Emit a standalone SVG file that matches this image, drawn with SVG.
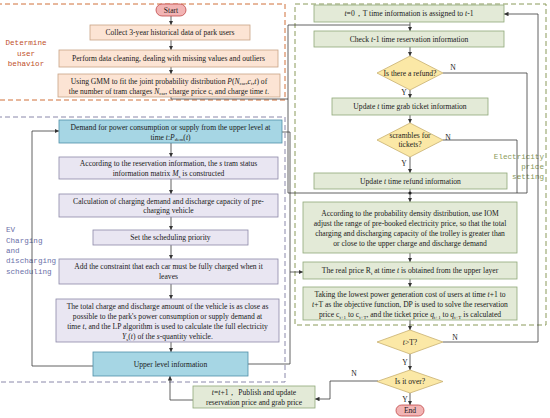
<svg xmlns="http://www.w3.org/2000/svg" width="550" height="418" viewBox="0 0 550 418">
<style>
text{font-family:"Liberation Serif","Times New Roman",serif;font-size:7.6px;fill:#1a1a1a;text-anchor:middle}
.lab{font-family:"Liberation Mono","DejaVu Sans Mono",monospace;font-size:7.6px}
.peach{fill:#fce4d4;stroke:#c9a386;stroke-width:0.8}
.blue{fill:#a6d6e4;stroke:#4f8fa8;stroke-width:0.8}
.lav{fill:#e9e6f2;stroke:#8c88a8;stroke-width:0.8}
.green{fill:#e3ead7;stroke:#8fa878;stroke-width:0.8}
.dia{fill:#fbe8a6;stroke:#c8b070;stroke-width:0.8}
.pill{fill:#f2b4b4;stroke:#c04848;stroke-width:0.8}
.c{fill:none;stroke:#3a3a3a;stroke-width:0.8}
.i{font-style:italic}
</style>
<defs>
<marker id="ah" viewBox="0 0 6 6" refX="6" refY="3" markerWidth="4.5" markerHeight="4.5" orient="auto" markerUnits="userSpaceOnUse"><path d="M0,0 L6,3 L0,6 z" fill="#333"/></marker>
</defs>

<g id="regions" fill="none" stroke-width="1" stroke-dasharray="5,3">
<rect x="-3" y="4" width="288" height="96" stroke="#d0703a"/>
<rect x="-3" y="117" width="288" height="265" stroke="#8a88aa"/>
<rect x="295" y="4" width="251" height="321" stroke="#8a9a5a"/>
</g>
<g id="region-labels">
<text class="lab" x="26" y="45" fill="#c0502a" style="fill:#c0502a">Determine</text>
<text class="lab" x="26" y="56" style="fill:#c0502a">user</text>
<text class="lab" x="26" y="66" style="fill:#c0502a">behavior</text>
<text class="lab" x="6" y="232" style="fill:#6a70a8;text-anchor:start">EV</text>
<text class="lab" x="6" y="243" style="fill:#6a70a8;text-anchor:start">Charging</text>
<text class="lab" x="6" y="253" style="fill:#6a70a8;text-anchor:start">and</text>
<text class="lab" x="6" y="263" style="fill:#6a70a8;text-anchor:start">discharging</text>
<text class="lab" x="6" y="274" style="fill:#6a70a8;text-anchor:start">scheduling</text>
<text class="lab" x="544" y="159" style="fill:#8a9a5a;text-anchor:end">Electricity</text>
<text class="lab" x="544" y="169" style="fill:#8a9a5a;text-anchor:end">price</text>
<text class="lab" x="544" y="179" style="fill:#8a9a5a;text-anchor:end">setting</text>
</g>

<g id="connectors">
<line class="c" x1="171" y1="16" x2="171" y2="25" marker-end="url(#ah)"/>
<line class="c" x1="171" y1="40" x2="171" y2="50" marker-end="url(#ah)"/>
<line class="c" x1="171" y1="67" x2="171" y2="74" marker-end="url(#ah)"/>
<polyline class="c" points="171,97 171,99 288,99"/>
<polyline class="c" points="288,193 288,25 410,25"/>
<line class="c" x1="410" y1="22" x2="410" y2="31" marker-end="url(#ah)"/>
<line class="c" x1="410" y1="47" x2="410" y2="56" marker-end="url(#ah)"/>
<polyline class="c" points="443,73 527,73 527,193"/>
<line class="c" x1="410" y1="90" x2="410" y2="98" marker-end="url(#ah)"/>
<line class="c" x1="410" y1="115" x2="410" y2="123" marker-end="url(#ah)"/>
<polyline class="c" points="443,140 517,140 517,193"/>
<line class="c" x1="410" y1="157" x2="410" y2="173" marker-end="url(#ah)"/>
<line class="c" x1="288" y1="193" x2="527" y2="193"/>
<line class="c" x1="410" y1="189" x2="410" y2="202" marker-end="url(#ah)"/>
<circle cx="410" cy="193" r="1.6" fill="#222"/>
<line class="c" x1="410" y1="253" x2="410" y2="262" marker-end="url(#ah)"/>
<line class="c" x1="410" y1="279" x2="410" y2="287" marker-end="url(#ah)"/>
<line class="c" x1="410" y1="320" x2="410" y2="330" marker-end="url(#ah)"/>
<polyline class="c" points="443,342 538,342 538,14 504,14" marker-end="url(#ah)"/>
<line class="c" x1="410" y1="354" x2="410" y2="370" marker-end="url(#ah)"/>
<polyline class="c" points="378,381 330,381 330,399 315,399" marker-end="url(#ah)"/>
<line class="c" x1="410" y1="393" x2="410" y2="405" marker-end="url(#ah)"/>
<polyline class="c" points="193,400 170,400 170,376" marker-end="url(#ah)"/>
<line class="c" x1="171" y1="143" x2="171" y2="157" marker-end="url(#ah)"/>
<line class="c" x1="171" y1="179" x2="171" y2="194" marker-end="url(#ah)"/>
<line class="c" x1="171" y1="217" x2="171" y2="230" marker-end="url(#ah)"/>
<line class="c" x1="171" y1="245" x2="171" y2="259" marker-end="url(#ah)"/>
<line class="c" x1="171" y1="284" x2="171" y2="299" marker-end="url(#ah)"/>
<line class="c" x1="171" y1="342" x2="171" y2="352" marker-end="url(#ah)"/>
<polyline class="c" points="93,366 32,366 32,131 59,131" marker-end="url(#ah)"/>
<polyline class="c" points="248,364 290,364 290,272 303,272" marker-end="url(#ah)"/>
<polyline class="c" points="282,132 290,132 290,272"/>
<text x="453" y="70">N</text>
<text x="404" y="95">Y</text>
<text x="448" y="140">N</text>
<text x="404" y="166">Y</text>
<text x="455" y="340">N</text>
<text x="405" y="365">Y</text>
<text x="354" y="376">N</text>
<text x="405" y="402">Y</text>
</g>

<g id="start"><rect class="pill" x="156" y="4" width="30" height="12" rx="6"/><text x="171" y="12.6">Start</text></g>
<g id="collect"><rect class="peach" x="90" y="25" width="160" height="15"/><text x="170" y="35">Collect 3-year historical data of park users</text></g>
<g id="clean"><rect class="peach" x="59" y="50" width="219" height="17"/><text x="168.5" y="61">Perform data cleaning, dealing with missing values and outliers</text></g>
<g id="gmm"><rect class="peach" x="58" y="74" width="222" height="23"/>
<text x="169" y="83.5">Using GMM to fit the joint probability distribution <tspan class="i">P</tspan>(<tspan class="i">N</tspan><tspan font-size="5" dy="1.5">car</tspan><tspan dy="-1.5">,</tspan><tspan class="i">c</tspan><tspan font-size="5" dy="1.5">t</tspan><tspan dy="-1.5">,</tspan><tspan class="i">t</tspan>) of</text>
<text x="169" y="93.5">the number of tram charges <tspan class="i">N</tspan><tspan font-size="5" dy="1.5">car</tspan><tspan dy="-1.5">, charge price c</tspan><tspan font-size="5" dy="1.5">t</tspan><tspan dy="-1.5"> and charge time </tspan><tspan class="i">t</tspan>.</text></g>

<g id="demand"><rect class="blue" x="59" y="120" width="223" height="23"/>
<text x="170.5" y="129.5">Demand for power consumption or supply from the upper level at</text>
<text x="170.5" y="139.5">time <tspan class="i">t</tspan>:<tspan class="i">P</tspan><tspan font-size="5" dy="1.5">dem</tspan><tspan dy="-1.5">(</tspan><tspan class="i">t</tspan>)</text></g>
<g id="matrix"><rect class="lav" x="59" y="157" width="219" height="22"/>
<text x="168.5" y="166">According to the reservation information, the <tspan class="i">s</tspan> tram status</text>
<text x="168.5" y="176">information matrix <tspan class="i">M</tspan><tspan font-size="5" dy="1.5">s</tspan><tspan dy="-1.5"> is constructed</tspan></text></g>
<g id="calc"><rect class="lav" x="59" y="194" width="219" height="23"/>
<text x="168.5" y="203.5">Calculation of charging demand and discharge capacity of pre-</text>
<text x="168.5" y="213">charging vehicle</text></g>
<g id="priority"><rect class="lav" x="93" y="230" width="155" height="15"/><text x="170.5" y="240">Set the scheduling priority</text></g>
<g id="constraint"><rect class="lav" x="59" y="259" width="219" height="25"/>
<text x="168.5" y="269">Add the constraint that each car must be fully charged when it</text>
<text x="168.5" y="279">leaves</text></g>
<g id="lp"><rect class="lav" x="56" y="299" width="223" height="43"/>
<text x="167.5" y="309">The total charge and discharge amount of the vehicle is as close as</text>
<text x="167.5" y="319">possible to the park's power consumption or supply demand at</text>
<text x="167.5" y="329">time <tspan class="i">t</tspan>, and the LP algorithm is used to calculate the full electricity</text>
<text x="167.5" y="339"><tspan class="i">Y</tspan><tspan font-size="5" dy="1.5">s</tspan><tspan dy="-1.5">(</tspan><tspan class="i">t</tspan>) of the <tspan class="i">s</tspan>-quantity vehicle.</text></g>
<g id="upper"><rect class="blue" x="93" y="352" width="155" height="24"/><text x="170.5" y="366.5">Upper level information</text></g>
<g id="next"><rect class="green" x="193" y="386" width="122" height="22"/>
<text x="254" y="395"><tspan class="i">t</tspan>=<tspan class="i">t</tspan>+1， Publish and update</text>
<text x="254" y="405">reservation price and grab price</text></g>

<g id="init"><rect class="green" x="314" y="5" width="190" height="17"/><text x="409" y="16"><tspan class="i">t</tspan>=0，T time information is assigned to <tspan class="i">t</tspan>-1</text></g>
<g id="check"><rect class="green" x="314" y="31" width="190" height="16"/><text x="409" y="41.5">Check <tspan class="i">t</tspan>-1 time reservation information</text></g>
<g id="refund"><polygon class="dia" points="410,56 443,73 410,90 377,73"/><text x="410" y="75.5">Is there a refund?</text></g>
<g id="grab"><rect class="green" x="332" y="98" width="156" height="17"/><text x="410" y="109">Update <tspan class="i">t</tspan> time grab ticket information</text></g>
<g id="scramble"><polygon class="dia" points="410,123 443,140 410,157 377,140"/><text x="410" y="138">scrambles for</text><text x="410" y="147">tickets?</text></g>
<g id="refundinfo"><rect class="green" x="314" y="173" width="193" height="16"/><text x="410.5" y="183.5">Update <tspan class="i">t</tspan> time refund information</text></g>
<g id="iom"><rect class="green" x="303" y="202" width="214" height="51"/>
<text x="410" y="216">According to the probability density distribution, use IOM</text>
<text x="410" y="226">adjust the range of pre-booked electricity price, so that the total</text>
<text x="410" y="236">charging and discharging capacity of the trolley is greater than</text>
<text x="410" y="246">or close to the upper charge and discharge demand</text></g>
<g id="real"><rect class="green" x="303" y="262" width="214" height="17"/><text x="410" y="273">The real price R<tspan font-size="5" dy="1.5">t</tspan><tspan dy="-1.5"> at time </tspan><tspan class="i">t</tspan> is obtained from the upper layer</text></g>
<g id="dp"><rect class="green" x="303" y="287" width="214" height="33"/>
<text x="410" y="297">Taking the lowest power generation cost of users at time <tspan class="i">t</tspan>+1 to</text>
<text x="410" y="307"><tspan class="i">t</tspan>+T as the objective function, DP is used to solve the reservation</text>
<text x="410" y="317">price c<tspan font-size="5" dy="1.5">t+1</tspan><tspan dy="-1.5"> to c</tspan><tspan font-size="5" dy="1.5">t+T</tspan><tspan dy="-1.5">, and the ticket price </tspan><tspan class="i">q</tspan><tspan font-size="5" dy="1.5">t+1</tspan><tspan dy="-1.5"> to </tspan><tspan class="i">q</tspan><tspan font-size="5" dy="1.5">t+T</tspan><tspan dy="-1.5"> is calculated</tspan></text></g>
<g id="tT"><polygon class="dia" points="410,330 443,342 410,354 377,342"/><text x="410" y="344.5"><tspan class="i">t</tspan>&gt;T?</text></g>
<g id="over"><polygon class="dia" points="410,370 443,381.5 410,393 377,381.5"/><text x="410" y="384">Is it over?</text></g>
<g id="end"><rect class="pill" x="396" y="405" width="28" height="11" rx="5.5"/><text x="410" y="413">End</text></g>
</svg>
